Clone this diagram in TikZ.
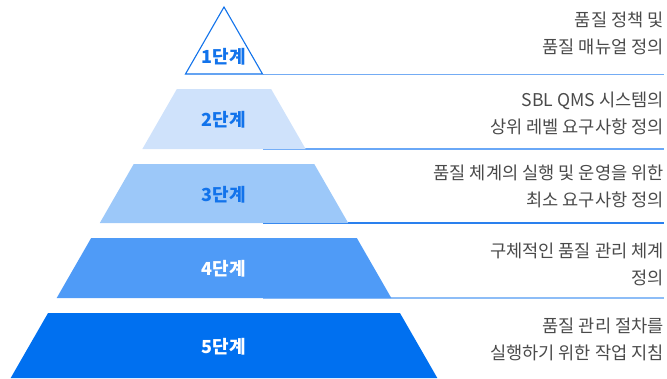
\documentclass[tikz,border=0pt]{standalone}
\usepackage{fontspec}
\setmainfont{Noto Sans CJK KR}
\usepackage{tikz}
\usetikzlibrary{positioning}

\definecolor{stageblue}{HTML}{1273EB}
\definecolor{lvtwo}{HTML}{CFE2FB}
\definecolor{lvthree}{HTML}{9CC8F9}
\definecolor{lvfour}{HTML}{4F9BF7}
\definecolor{lvfive}{HTML}{0070F0}
\definecolor{descgray}{HTML}{4A4A4A}
\definecolor{ruleone}{HTML}{74ACF4}
\definecolor{ruletwo}{HTML}{6AA8F7}
\definecolor{rulethree}{HTML}{2A80EE}
\definecolor{rulefour}{HTML}{8DBDF7}

\begin{document}
\begin{tikzpicture}[x=1pt,y=-1pt,
    stage node/.style={font=\bfseries\fontsize{18}{20}\selectfont,inner sep=0pt},
    desc node/.style={anchor=east,align=right,text=descgray,inner sep=0pt,
      font=\fontsize{17.6}{27}\selectfont},
    rule line/.style={line width=1.2pt}]
    \useasboundingbox (0,0) rectangle (667,378);

    % rules behind the pyramid
    \foreach \i/\y/\c in {1/74.5/ruleone,2/149/ruletwo,3/223/rulethree,4/298/rulefour}{
      \coordinate (r\i a) at (263,\y);
      \coordinate (r\i b) at (664,\y);
      \draw[rule line,\c] (r\i a) -- (r\i b);
    }

    % pyramid levels
    \draw[stageblue,line width=1.1pt,fill=white] (224,7) -- (262.5,74) -- (185.5,74) -- cycle;
    \foreach \t/\b/\c in {89/149/lvtwo,164/223/lvthree,238/298/lvfour,313/378/lvfive}{
      \fill[\c] ({224-0.575*(\t-7)},\t) -- ({224+0.575*(\t-7)},\t)
        -- ({224+0.575*(\b-7)},\b) -- ({224-0.575*(\b-7)},\b) -- cycle;
    }

    \node[stage node,text=stageblue] (s1) at (224,57) {1단계};
    \node[stage node,text=stageblue] (s2) at (224,120) {2단계};
    \node[stage node,text=stageblue] (s3) at (224,194.5) {3단계};
    \node[stage node,text=white] (s4) at (224,269) {4단계};
    \node[stage node,text=white] (s5) at (224,347) {5단계};

    \node[desc node] (d1) at (664,33.5) {품질 정책 및\\품질 매뉴얼 정의};
    \node[desc node] (d2) at (664,113.5) {SBL QMS 시스템의\\상위 레벨 요구사항 정의};
    \node[desc node] (d3) at (664,186.5) {품질 체계의 실행 및 운영을 위한\\최소 요구사항 정의};
    \node[desc node] (d4) at (664,264.5) {구체적인 품질 관리 체계\\정의};
    \node[desc node] (d5) at (664,339.5) {품질 관리 절차를\\실행하기 위한 작업 지침};
\end{tikzpicture}
\end{document}
